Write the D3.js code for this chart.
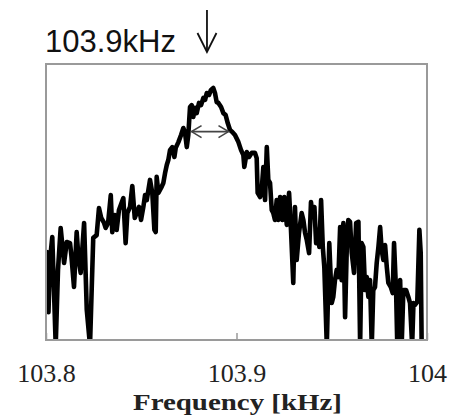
<!DOCTYPE html>
<html>
<head>
<meta charset="utf-8">
<script src="https://cdn.jsdelivr.net/npm/d3@7"></script>
<style>
  html, body { margin: 0; padding: 0; background: #fff; }
  svg { display: block; }
</style>
</head>
<body>
<div id="chart"></div>
<script>
// spectrum: frequency [kHz] and amplitude [a.u., 0 = bottom of frame]
const freq = [
  103.8003, 103.8005, 103.8013, 103.8021, 103.8033, 103.8051, 103.8063, 103.8077, 103.8095, 103.8109,
  103.8126, 103.8133, 103.8147, 103.8161, 103.8170, 103.8182, 103.8200, 103.8214, 103.8231, 103.8248,
  103.8266, 103.8278, 103.8290, 103.8305, 103.8313, 103.8326, 103.8340, 103.8348, 103.8361, 103.8371,
  103.8383, 103.8406, 103.8418, 103.8427, 103.8441, 103.8453, 103.8466, 103.8488, 103.8499, 103.8511,
  103.8520, 103.8529, 103.8546, 103.8558, 103.8569, 103.8576, 103.8581, 103.8590, 103.8604, 103.8616,
  103.8625, 103.8634, 103.8642, 103.8651, 103.8663, 103.8674, 103.8681, 103.8695, 103.8709, 103.8721,
  103.8730, 103.8739, 103.8747, 103.8756, 103.8765, 103.8773, 103.8782, 103.8791, 103.8803, 103.8814,
  103.8826, 103.8835, 103.8844, 103.8856, 103.8866, 103.8878, 103.8887, 103.8896, 103.8905, 103.8919,
  103.8931, 103.8943, 103.8954, 103.8966, 103.8978, 103.8992, 103.9010, 103.9024, 103.9036, 103.9041,
  103.9054, 103.9066, 103.9080, 103.9097, 103.9106, 103.9111, 103.9124, 103.9132, 103.9141, 103.9150,
  103.9159, 103.9167, 103.9176, 103.9185, 103.9193, 103.9202, 103.9211, 103.9220, 103.9229, 103.9241,
  103.9251, 103.9264, 103.9276, 103.9286, 103.9298, 103.9307, 103.9316, 103.9328, 103.9342, 103.9351,
  103.9360, 103.9369, 103.9381, 103.9391, 103.9400, 103.9409, 103.9418, 103.9426, 103.9435, 103.9444,
  103.9453, 103.9461, 103.9474, 103.9487, 103.9500, 103.9508, 103.9517, 103.9526, 103.9535, 103.9544,
  103.9552, 103.9561, 103.9570, 103.9579, 103.9587, 103.9596, 103.9605, 103.9617, 103.9628, 103.9640,
  103.9649, 103.9657, 103.9666, 103.9675, 103.9684, 103.9692, 103.9701, 103.9710, 103.9718, 103.9727,
  103.9736, 103.9745, 103.9754, 103.9762, 103.9771, 103.9780, 103.9789, 103.9797, 103.9810, 103.9820,
  103.9827, 103.9838, 103.9844, 103.9853, 103.9859, 103.9867, 103.9876, 103.9890, 103.9902, 103.9911,
  103.9922, 103.9929, 103.9937, 103.9949, 103.9960, 103.9967, 103.9972, 103.9981
];
const amp = [
  14.5, 31.9, 10.1, 29.0, 37.3, -2, 25.4, 40.6, 27.9, 35.5,
  35.1, 30.8, 19.2, 39.1, 30.1, 24.3, 42.4, 10.9, -2, 37.0,
  38.0, 47.8, 44.2, 42.4, 40.6, 42.4, 52.5, 39.1, 45.3, 39.9,
  47.1, 51.4, 35.1, 46.0, 48.2, 55.8, 44.2, 48.2, 43.5, 48.2,
  52.5, 50.7, 58.0, 53.3, 39.9, 39.1, 59.1, 53.3, 55.1, 56.9,
  60.5, 63.4, 65.2, 68.8, 69.9, 66.3, 69.6, 71.7, 74.3, 76.8,
  75.0, 69.9, 74.3, 84.4, 85.1, 80.8, 84.1, 82.2, 85.9, 85.1,
  87.7, 87.0, 89.5, 88.8, 90.6, 91.3, 89.5, 86.2, 85.9, 84.4,
  82.2, 81.5, 78.6, 76.1, 75.4, 74.3, 71.7, 68.8, 67.0, 62.7,
  68.1, 66.3, 67.8, 67.8, 65.9, 53.3, 51.8, 54.3, 62.7, 50.7,
  69.9, 58.0, 56.9, 47.1, 46.0, 43.5, 50.7, 43.5, 51.8, 43.5,
  51.8, 41.7, 53.3, 39.9, 20.7, 48.2, 29.0, 38.8, 46.0, 43.5,
  38.8, 36.2, 31.5, 50.0, 44.6, 48.2, 35.1, 39.9, 33.7, 50.7,
  33.7, 26.4, -2, 35.1, 13.4, 15.6, 21.7, 25.4, 22.8, 40.9,
  21.7, 42.4, 8.3, 33.7, 43.5, 42.8, 31.5, 24.3, 42.4, 42.8,
  -2, 35.1, 33.7, 18.1, 22.8, 15.6, 21.7, -2, 18.1, 19.2,
  27.9, 33.7, 40.9, 32.6, 29.0, 34.4, 26.4, 20.7, 19.2, 17.0,
  35.1, 17.0, -2, 18.1, 21.7, -2, 18.1, 18.1, 15.6, 13.4,
  -2, 13.4, 12.7, 13.8, 39.9, 31.5, -2, -2
];

const xDomain = [103.8, 104];
const yDomain = [0, 100];
const xTicks = [103.8, 103.9, 104];
const xTickLabels = ['103.8', '103.9', '104'];
const xTitle = 'Frequency [kHz]';

const peakFreq = 103.8845;        // frequency marked by the arrow
const peakLabel = '103.9kHz';
const fwhm = [103.8764, 103.8958]; // half-width arrow ends
const fwhmLevel = 75.5;

const W = 453, H = 418;
const margin = { top: 64, right: 26, bottom: 78, left: 46 };
const width = W - margin.left - margin.right;
const height = H - margin.top - margin.bottom;

const svg = d3.select('#chart').append('svg')
  .attr('width', W)
  .attr('height', H);

const g = svg.append('g')
  .attr('transform', `translate(${margin.left},${margin.top})`);

const x = d3.scaleLinear().domain(xDomain).range([0, width]);
const y = d3.scaleLinear().domain(yDomain).range([height, 0]);

g.append('clipPath').attr('id', 'plotclip')
  .append('rect').attr('width', width).attr('height', height);

const points = freq.map((f, i) => ({ f: f, a: amp[i] }));

// trace
g.append('path')
  .datum(points)
  .attr('clip-path', 'url(#plotclip)')
  .attr('fill', 'none')
  .attr('stroke', '#000')
  .attr('stroke-width', 4.6)
  .attr('stroke-linejoin', 'round')
  .attr('stroke-linecap', 'round')
  .attr('d', d3.line().x(d => x(d.f)).y(d => y(d.a)));

// frame
g.append('rect')
  .attr('width', width)
  .attr('height', height)
  .attr('fill', 'none')
  .attr('stroke', '#9a9a9a')
  .attr('stroke-width', 2);

// x axis: inner ticks, labels below
const xAxis = d3.axisBottom(x)
  .tickValues(xTicks)
  .tickSizeInner(-7)
  .tickSizeOuter(0)
  .tickPadding(24)
  .tickFormat((d, i) => xTickLabels[i]);

const ax = g.append('g')
  .attr('transform', `translate(0,${height})`)
  .call(xAxis);
ax.select('.domain').remove();
ax.selectAll('.tick line').attr('stroke', '#9a9a9a').attr('stroke-width', 1.5);
ax.selectAll('.tick text')
  .attr('fill', '#222')
  .style('font-family', '"Liberation Serif", "DejaVu Serif", serif')
  .style('font-size', '26px');

g.append('text')
  .attr('x', width / 2 + 1)
  .attr('y', height + 70)
  .attr('text-anchor', 'middle')
  .attr('textLength', 209)
  .attr('lengthAdjust', 'spacingAndGlyphs')
  .attr('fill', '#222')
  .style('font-family', '"Liberation Serif", "DejaVu Serif", serif')
  .style('font-weight', 'bold')
  .style('font-size', '24px')
  .text(xTitle);

// FWHM double arrow
const ya = y(fwhmLevel), xa1 = x(fwhm[0]), xa2 = x(fwhm[1]);
const arrowG = g.append('g')
  .attr('fill', 'none')
  .attr('stroke', '#444')
  .attr('stroke-width', 1.6);
arrowG.append('line').attr('x1', xa1).attr('x2', xa2).attr('y1', ya).attr('y2', ya);
arrowG.append('path').attr('d', `M${xa1 + 10},${ya - 6}L${xa1},${ya}L${xa1 + 10},${ya + 6}`);
arrowG.append('path').attr('d', `M${xa2 - 10},${ya - 6}L${xa2},${ya}L${xa2 - 10},${ya + 6}`);

// peak label and down arrow above the frame
const px = x(peakFreq);
svg.append('text')
  .attr('x', margin.left - 1)
  .attr('y', 52)
  .attr('fill', '#111')
  .style('font-family', '"Liberation Sans", Arial, sans-serif')
  .style('font-size', '31px')
  .text(peakLabel);

const downG = svg.append('g')
  .attr('transform', `translate(${margin.left + px},0)`)
  .attr('fill', 'none')
  .attr('stroke', '#111')
  .attr('stroke-width', 1.8);
downG.append('line').attr('x1', 0).attr('x2', 0).attr('y1', 10).attr('y2', 52);
downG.append('path').attr('d', 'M-9.5,33L0,52L9.5,33');
</script>
</body>
</html>
